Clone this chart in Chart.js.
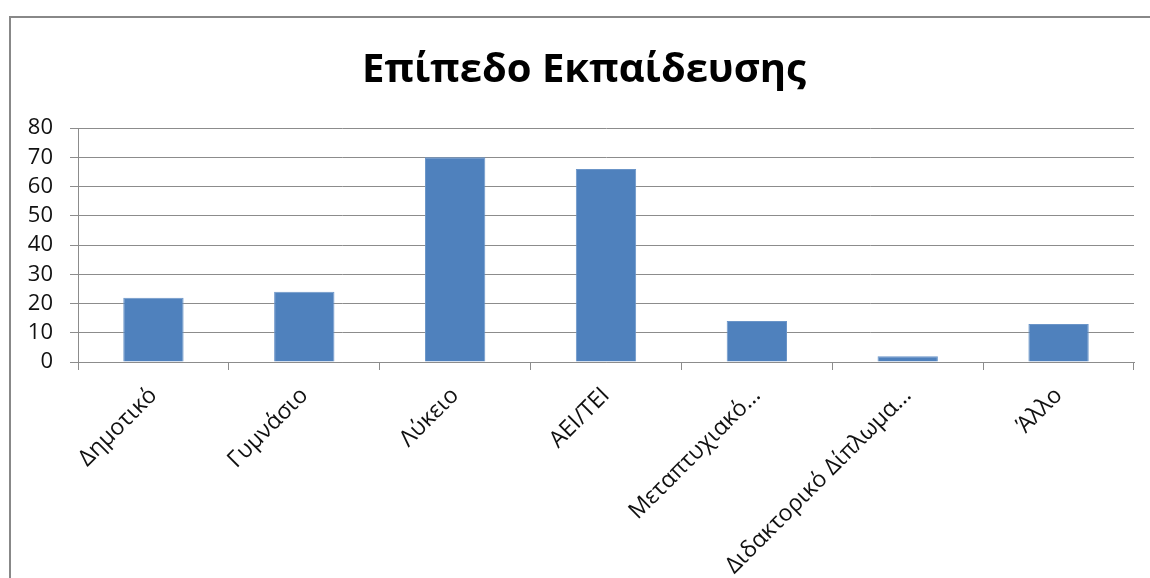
<!DOCTYPE html>
<html>
<head>
<meta charset="utf-8">
<script src="https://cdn.jsdelivr.net/npm/chart.js@4"></script>
<style>
  html, body { margin: 0; padding: 0; background: #fff; }
  #wrap { width: 1150px; height: 578px; }
</style>
</head>
<body>
<div id="wrap"><canvas id="eduChart" width="1150" height="578"></canvas></div>
<script>
let categories = ['Δημοτικό', 'Γυμνάσιο', 'Λύκειο', 'ΑΕΙ/ΤΕΙ', 'Μεταπτυχιακό...', 'Διδακτορικό Δίπλωμα...', 'Άλλο'];
let counts = [22, 24, 70, 66, 14, 2, 13];
let yTicks = [0, 10, 20, 30, 40, 50, 60, 70, 80];

let gridGray = '#8c8c8c';

// outer frame like the spreadsheet chart box, and title centred on the frame
let framePlugin = {
    id: 'frame',
    afterLayout(chart) {
        let tb = chart.titleBlock;
        if (tb) {
            tb.left += 34;
            tb.width = tb.right - tb.left;
        }
    },
    beforeDraw(chart) {
        let ctx = chart.ctx;
        ctx.save();
        ctx.fillStyle = '#fff';
        ctx.fillRect(0, 0, chart.width, chart.height);
        ctx.strokeStyle = '#888';
        ctx.lineWidth = 2;
        ctx.strokeRect(10, 17, chart.width + 20, chart.height + 20);
        ctx.restore();
    }
};

let eduCtx = document.getElementById('eduChart').getContext('2d');

let eduChart = new Chart(eduCtx, {
    type: 'bar',
    data: {
        labels: categories,
        datasets: [{
            data: counts,
            backgroundColor: '#4F81BD',
            borderColor: '#6b95c8',
            borderWidth: 1,
            categoryPercentage: 1,
            barPercentage: 0.4
        }]
    },
    plugins: [framePlugin],
    options: {
        responsive: false,
        animation: false,
        layout: { padding: { left: 0, right: 16, top: 0, bottom: 0 } },
        plugins: {
            legend: { display: false },
            tooltip: { enabled: false },
            title: {
                display: true,
                text: 'Επίπεδο Εκπαίδευσης',
                color: '#000',
                font: { family: 'Open Sans', size: 40, weight: 'bold' },
                padding: { top: 47, bottom: 33 }
            }
        },
        scales: {
            x: {
                grid: { drawOnChartArea: false, drawTicks: true, tickLength: 8, color: gridGray, offset: true },
                border: { color: gridGray, width: 1 },
                ticks: {
                    color: '#111',
                    font: { family: 'Open Sans', size: 23 },
                    minRotation: 45,
                    maxRotation: 45,
                    autoSkip: false,
                    padding: 12
                },
                afterFit(scale) { scale.height = 216; }
            },
            y: {
                min: 0,
                max: 80,
                afterBuildTicks(scale) { scale.ticks = yTicks.map(v => ({ value: v })); },
                grid: { color: gridGray, tickLength: 8 },
                border: { color: gridGray, width: 1 },
                ticks: {
                    color: '#111',
                    font: { family: 'Open Sans', size: 22 },
                    padding: 17,
                    autoSkip: false
                },
                afterFit(scale) { scale.width = 78; }
            }
        }
    }
});
</script>
</body>
</html>
